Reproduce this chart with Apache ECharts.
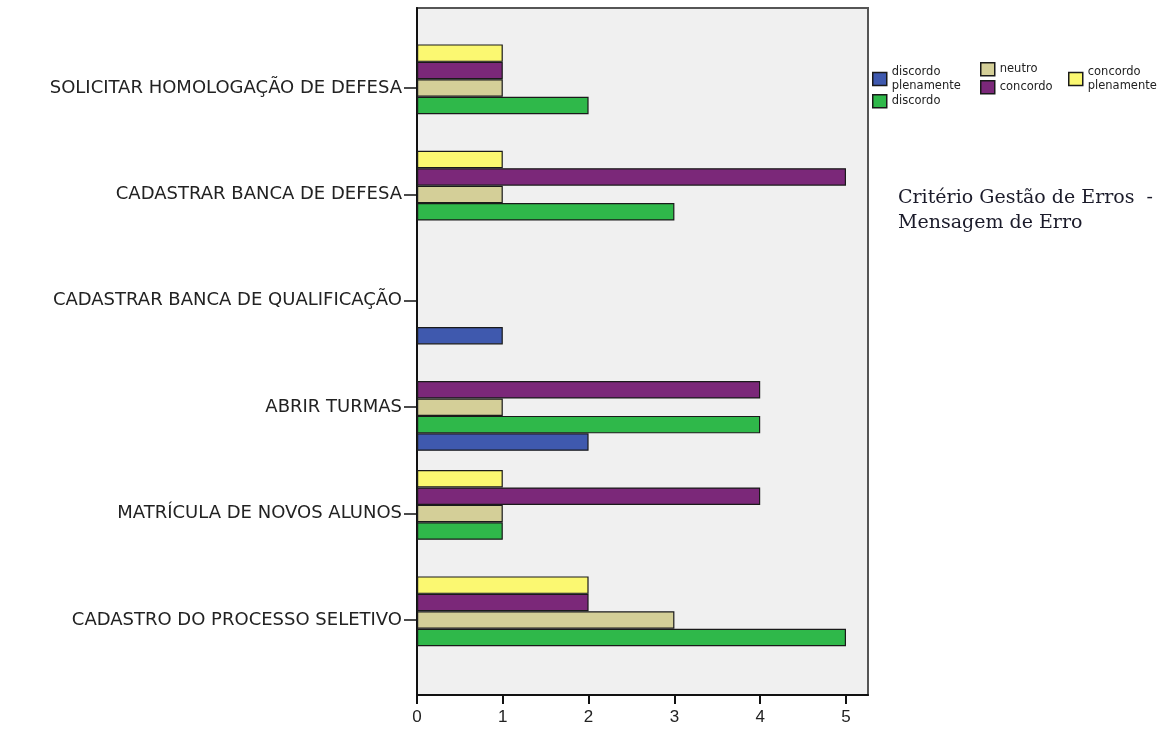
<!DOCTYPE html>
<html><head><meta charset="utf-8">
<script src="https://cdn.jsdelivr.net/npm/echarts@6/dist/echarts.min.js"></script>
<style>html,body{margin:0;padding:0;background:#fff}#c{width:1174px;height:729px}</style>
</head><body><div id="c"></div>
<script>
// categories from bottom to top
const categories = ['CADASTRO DO PROCESSO SELETIVO','MATRÍCULA DE NOVOS ALUNOS','ABRIR TURMAS','CADASTRAR BANCA DE QUALIFICAÇÃO','CADASTRAR BANCA DE DEFESA','SOLICITAR HOMOLOGAÇÃO DE DEFESA'];
const seriesNames = ['discordo plenamente','discordo','neutro','concordo','concordo plenamente'];
const discordoPlenamente = [0, 0, 2, 1, 0, 0];
const discordo           = [5, 1, 4, 0, 3, 2];
const neutro             = [3, 1, 1, 0, 1, 1];
const concordo           = [2, 4, 4, 0, 5, 1];
const concordoPlenamente = [2, 1, 0, 0, 1, 1];
const xTicks = [0, 1, 2, 3, 4, 5];
const colors = ['#3f59ae','#2fb84a','#d4cf98','#7b2879','#fbf871'];
const values = [discordoPlenamente, discordo, neutro, concordo, concordoPlenamente];

const L = 417, T = 8, B = 729 - 695;
const frameRight = 1174 - 868;   // plot frame right edge
const scaleRight = 1174 - 846;   // position of value 5
const chart = echarts.init(document.getElementById('c'));
// first series in ECharts is drawn at top of group; reference has "discordo plenamente" at bottom
const series = values.map((v, i) => ({
  name: seriesNames[i], type: 'bar', xAxisIndex: 1, yAxisIndex: 1,
  data: v.map(x => x === 0 ? null : x),
  barGap: '0%', barCategoryGap: '18%',
  itemStyle: { color: colors[i], borderColor: '#1a1a1a', borderWidth: 1.2 },
  emphasis: { disabled: true }
})).reverse();
const legendText = { fontFamily: 'DejaVu Sans', fontSize: 11.5, color: '#222', lineHeight: 14 };
function leg(name, left, top, twoLine) {
  return { data: [{ name: name, icon: 'rect' }], orient: 'vertical', left: left, top: top, itemWidth: 14, itemHeight: 13,
    itemStyle: { borderColor: '#1a1a1a', borderWidth: 1.5 },
    textStyle: legendText, selectedMode: false,
    formatter: n => twoLine ? n.replace(' ', '\n') : n };
}
chart.setOption({
  animation: false,
  backgroundColor: '#fff',
  grid: [
    { left: L, right: frameRight, top: T, bottom: B, show: true, backgroundColor: '#f0f0f0', borderColor: '#555', borderWidth: 2 },
    { left: L, right: scaleRight, top: 34.8, bottom: 729 - 673.2 },
    { left: L, right: scaleRight, top: T, bottom: B }
  ],
  xAxis: [
    { gridIndex: 0, type: 'value', min: 0, max: 1,
      axisLine: { show: true, lineStyle: { color: '#111', width: 2 } },
      axisTick: { show: false }, axisLabel: { show: false }, splitLine: { show: false } },
    { gridIndex: 1, type: 'value', min: 0, max: 5, show: false, splitLine: { show: false } },
    { gridIndex: 2, type: 'value', min: 0, max: 5, interval: 1,
      axisLine: { show: true, lineStyle: { color: '#111', width: 2 } },
      axisTick: { show: true, length: 9, lineStyle: { color: '#111', width: 2 } },
      axisLabel: { fontFamily: 'Liberation Sans', fontSize: 17, color: '#222', margin: 14,
        formatter: v => xTicks.includes(v) ? String(v) : '' },
      splitLine: { show: false } }
  ],
  yAxis: [
    { gridIndex: 0, type: 'value', min: 0, max: 1, show: true,
      axisLine: { show: true, lineStyle: { color: '#111', width: 2 } },
      axisTick: { show: false }, axisLabel: { show: false }, splitLine: { show: false } },
    { gridIndex: 1, type: 'category', data: categories,
      axisLine: { show: false },
      axisTick: { show: true, alignWithLabel: true, length: 13, lineStyle: { color: '#111', width: 1.5 } },
      axisLabel: { fontFamily: 'DejaVu Sans', fontSize: 18, color: '#222', margin: 15 } },
    { gridIndex: 2, type: 'value', min: 0, max: 1, show: false, splitLine: { show: false } }
  ],
  legend: [
    leg('discordo plenamente', 867, 60, true),
    leg('discordo', 867, 89, false),
    leg('neutro', 975, 57, false),
    leg('concordo', 975, 75, false),
    leg('concordo plenamente', 1063, 60, true)
  ],
  graphic: [
    { type: 'text', left: 898, top: 186,
      style: { text: 'Critério Gestão de Erros  -\nMensagem de Erro', font: '19px "DejaVu Serif"', fill: '#1b1b2a', lineHeight: 25 } }
  ],
  series: series
});
</script></body></html>
